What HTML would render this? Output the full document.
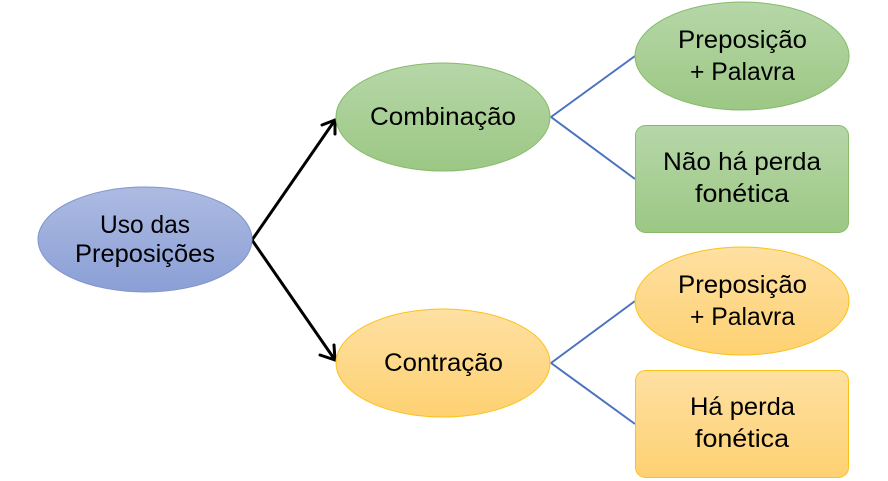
<!DOCTYPE html>
<html><head><meta charset="utf-8"><style>
html,body{margin:0;padding:0;background:#fff;}
svg{display:block;}
text{font-family:"Liberation Sans",sans-serif;font-size:25px;fill:#000;}
</style></head><body>
<svg width="888" height="481" viewBox="0 0 888 481" xmlns="http://www.w3.org/2000/svg">
<defs>
<linearGradient id="gb" x1="0" y1="0" x2="0" y2="1"><stop offset="0" stop-color="#adbbe2"/><stop offset="1" stop-color="#8b9fd6"/></linearGradient>
<linearGradient id="gg" x1="0" y1="0" x2="0" y2="1"><stop offset="0" stop-color="#b6d7a8"/><stop offset="1" stop-color="#9cc784"/></linearGradient>
<linearGradient id="go" x1="0" y1="0" x2="0" y2="1"><stop offset="0" stop-color="#fee0a2"/><stop offset="1" stop-color="#fed172"/></linearGradient>
</defs>
<!-- blue connectors -->
<g stroke="#4a72c0" stroke-width="2" fill="none">
<line x1="551" y1="117" x2="635" y2="56"/>
<line x1="551" y1="117" x2="635" y2="179"/>
<line x1="551" y1="363" x2="635" y2="301"/>
<line x1="551" y1="363" x2="635" y2="424"/>
</g>
<!-- black arrows -->
<g stroke="#000" stroke-width="3" fill="none" stroke-linecap="round" stroke-linejoin="round">
<line x1="252" y1="240" x2="335" y2="120"/>
<polyline points="322,125 335,120 335,134"/>
<line x1="252" y1="240" x2="335" y2="360"/>
<polyline points="320,355 335,360 334,345"/>
</g>
<!-- nodes -->
<ellipse cx="145" cy="239.5" rx="107" ry="52.5" fill="url(#gb)" stroke="#7f95cc" stroke-width="1"/>
<ellipse cx="443" cy="117" rx="107" ry="54" fill="url(#gg)" stroke="#86bb6a" stroke-width="1"/>
<ellipse cx="443" cy="363" rx="107" ry="54" fill="url(#go)" stroke="#fcc21a" stroke-width="1"/>
<ellipse cx="742" cy="56" rx="107" ry="54" fill="url(#gg)" stroke="#86bb6a" stroke-width="1"/>
<rect x="635.5" y="125.5" width="213" height="107" rx="10" fill="url(#gg)" stroke="#86bb6a" stroke-width="1"/>
<ellipse cx="742" cy="301" rx="107" ry="54" fill="url(#go)" stroke="#fcc21a" stroke-width="1"/>
<rect x="635.5" y="370.5" width="213" height="107" rx="10" fill="url(#go)" stroke="#fcc21a" stroke-width="1"/>
<!-- labels -->
<text x="100" y="233" textLength="90" lengthAdjust="spacingAndGlyphs">Uso das</text>
<text x="75" y="262" textLength="140" lengthAdjust="spacingAndGlyphs">Preposições</text>
<text x="370" y="125" textLength="146" lengthAdjust="spacingAndGlyphs">Combinação</text>
<text x="384" y="371" textLength="119" lengthAdjust="spacingAndGlyphs">Contração</text>
<text x="678" y="48" textLength="129" lengthAdjust="spacingAndGlyphs">Preposição</text>
<text x="690" y="80" textLength="105" lengthAdjust="spacingAndGlyphs">+ Palavra</text>
<text x="663" y="170" textLength="158" lengthAdjust="spacingAndGlyphs">Não há perda</text>
<text x="695" y="202" textLength="94" lengthAdjust="spacingAndGlyphs">fonética</text>
<text x="678" y="293" textLength="129" lengthAdjust="spacingAndGlyphs">Preposição</text>
<text x="690" y="325" textLength="105" lengthAdjust="spacingAndGlyphs">+ Palavra</text>
<text x="690" y="415" textLength="105" lengthAdjust="spacingAndGlyphs">Há perda</text>
<text x="695" y="447" textLength="94" lengthAdjust="spacingAndGlyphs">fonética</text>
</svg>
</body></html>
